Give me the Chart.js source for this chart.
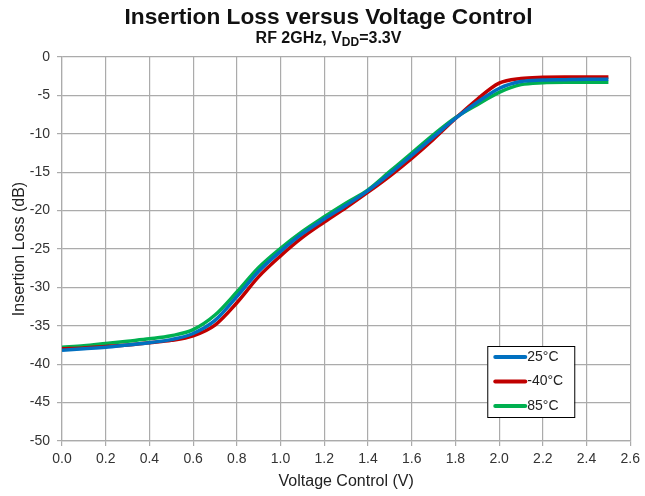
<!DOCTYPE html>
<html>
<head>
<meta charset="utf-8">
<script src="https://cdn.jsdelivr.net/npm/chart.js@4.4.1/dist/chart.umd.min.js"></script>
<style>
  html, body { margin: 0; padding: 0; background: #fff; }
  #wrap { position: relative; width: 645px; height: 496px; font-family: "Liberation Sans", Arial, sans-serif; }
  #title { position: absolute; left: 6px; width: 645px; top: 3px; text-align: center; font-weight: bold; font-size: 22.7px; color: #111; }
  #subtitle { position: absolute; left: 6px; width: 645px; top: 29px; text-align: center; font-weight: bold; font-size: 16px; color: #111; }
  #subtitle sub { font-size: 12px; vertical-align: -3px; line-height: 0; }
  canvas { position: absolute; left: 0; top: 0; }
</style>
</head>
<body>
<div id="wrap">
  <canvas id="chartCanvas" width="645" height="496"></canvas>
  <div id="title">Insertion Loss versus Voltage Control</div>
  <div id="subtitle">RF 2GHz, V<sub>DD</sub>=3.3V</div>
</div>
<script>
(function() {

  var voltage = [0.0, 0.1, 0.2, 0.3, 0.4, 0.5, 0.6, 0.7, 0.8, 0.9, 1.0, 1.1, 1.2,
                 1.3, 1.4, 1.5, 1.6, 1.7, 1.8, 1.9, 2.0, 2.1, 2.2, 2.3, 2.4, 2.5];

  var loss25 = [-38.2, -38.0, -37.8, -37.5, -37.2, -36.8, -36.0, -34.3, -31.2, -27.9, -25.3, -23.0, -21.1,
                -19.3, -17.4, -15.2, -12.8, -10.4, -8.0, -5.9, -4.1, -3.2, -3.0, -2.95, -2.9, -2.9];

  var lossMinus40 = [-38.0, -37.9, -37.7, -37.5, -37.2, -36.9, -36.3, -34.9, -32.0, -28.6, -25.9, -23.5, -21.5,
                     -19.6, -17.6, -15.5, -13.2, -10.7, -8.0, -5.5, -3.4, -2.8, -2.65, -2.6, -2.6, -2.6];

  var loss85 = [-37.8, -37.6, -37.3, -37.0, -36.7, -36.3, -35.5, -33.6, -30.6, -27.4, -24.9, -22.7, -20.8,
                -19.0, -17.3, -14.9, -12.5, -10.1, -7.9, -6.2, -4.6, -3.6, -3.35, -3.3, -3.3, -3.3];

  var seriesLabels = ['25°C', '-40°C', '85°C'];
  var seriesColors = ['#0070C0', '#C00000', '#00B050'];

  function toPoints(ys) {
    return voltage.map(function(v, i) { return { x: v, y: ys[i] }; });
  }

  var gridColor = '#ababab';
  var textColor = '#333333';
  var font = "'Liberation Sans', Arial, sans-serif";

  // legend drawn inside the plot with a black frame
  var boxLegend = {
    id: 'boxLegend',
    afterDatasetsDraw: function(chart) {
      var ctx = chart.ctx;
      var area = chart.chartArea;
      var x0 = area.right - 143, y0 = area.bottom - 95;
      var w = 87, h = 71;
      ctx.save();
      ctx.fillStyle = '#ffffff';
      ctx.fillRect(x0, y0, w, h);
      ctx.strokeStyle = '#000000';
      ctx.lineWidth = 1;
      ctx.strokeRect(x0 + 0.5, y0 + 0.5, w, h);
      ctx.font = '14px ' + font;
      ctx.textBaseline = 'middle';
      ctx.fillStyle = '#222';
      chart.data.datasets.forEach(function(ds, i) {
        var yy = y0 + 11 + i * 24.5;
        ctx.strokeStyle = ds.borderColor;
        ctx.lineWidth = 4;
        ctx.lineCap = 'round';
        ctx.beginPath();
        ctx.moveTo(x0 + 8, yy);
        ctx.lineTo(x0 + 38, yy);
        ctx.stroke();
        ctx.fillText(ds.label, x0 + 40, yy);
      });
      ctx.restore();
    }
  };

  var ctx = document.getElementById('chartCanvas');
  new Chart(ctx, {
    type: 'line',
    data: {
      datasets: [
        { label: seriesLabels[0], data: toPoints(loss25), borderColor: seriesColors[0] },
        { label: seriesLabels[1], data: toPoints(lossMinus40), borderColor: seriesColors[1] },
        { label: seriesLabels[2], data: toPoints(loss85), borderColor: seriesColors[2] }
      ]
    },
    options: {
      responsive: false,
      animation: false,
      parsing: false,
      layout: { padding: { top: 57, right: 12, left: 0, bottom: 0 } },
      elements: {
        point: { radius: 0 },
        line: { borderWidth: 3.5, cubicInterpolationMode: 'monotone', fill: false }
      },
      plugins: {
        legend: { display: false },
        tooltip: { enabled: false }
      },
      scales: {
        x: {
          type: 'linear',
          min: 0, max: 2.6,
          afterFit: function(scale) { scale.height = 55; },
          ticks: {
            stepSize: 0.2,
            padding: 5,
            color: textColor,
            font: { family: font, size: 14 },
            callback: function(v) { return v.toFixed(1); }
          },
          grid: { color: gridColor, lineWidth: 1.2, tickLength: 5 },
          border: { color: gridColor, width: 1.2 },
          title: {
            display: true,
            text: 'Voltage Control (V)',
            color: '#222',
            font: { family: font, size: 16 },
            padding: { top: 0, bottom: 5 }
          }
        },
        y: {
          min: -50, max: 0,
          afterFit: function(scale) { scale.width = 62; },
          ticks: {
            stepSize: 5,
            padding: 7,
            color: textColor,
            font: { family: font, size: 14 }
          },
          grid: { color: gridColor, lineWidth: 1.2, tickLength: 5 },
          border: { color: gridColor, width: 1.2 },
          title: {
            display: true,
            text: 'Insertion Loss (dB)',
            color: '#222',
            font: { family: font, size: 16 },
            padding: { top: 10, bottom: 0 }
          }
        }
      }
    },
    plugins: [boxLegend]
  });

})();
</script>
</body>
</html>
